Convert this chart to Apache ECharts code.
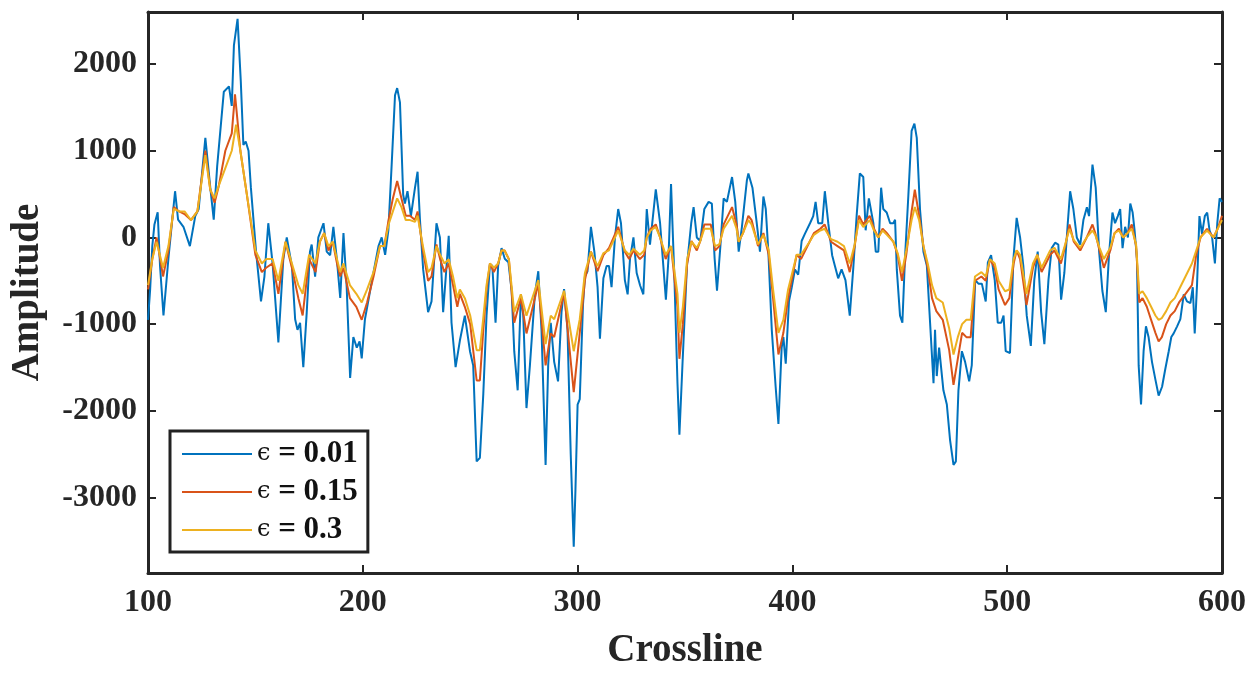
<!DOCTYPE html>
<html><head><meta charset="utf-8">
<script src="https://cdn.jsdelivr.net/npm/echarts@6/dist/echarts.min.js"></script>
<style>html,body{margin:0;padding:0;background:#fff}#c{width:1258px;height:675px}</style>
</head><body><div id="c"></div>
<script>
const epsLabels = ['0.01', '0.15', '0.3'];
const xTicks = [100, 200, 300, 400, 500, 600];
const yTicks = [-3000, -2000, -1000, 0, 1000, 2000];

const blue = [[100,-950],[101,-600],[102,-100],[103,150],[104.5,290],[105.6,-330],[107.2,-900],[109.5,-246],[112.6,533],[114,205],[116.5,123],[119.5,-100],[122,246],[123.6,328],[126.7,1148],[129,574],[130.6,205],[132.2,820],[135.3,1681],[137.7,1742],[139,1517],[140,2214],[141.7,2521],[143.2,1800],[144.4,1066],[145.5,1107],[146.8,1000],[147.9,574],[150.3,-164],[152.6,-738],[154.2,-451],[156,164],[158,-300],[160.7,-1210],[163,-246],[164.6,0],[167,-330],[168.5,-943],[169.6,-1066],[170.8,-984],[172.3,-1496],[173.9,-861],[175.4,-164],[176.2,-82],[177.8,-451],[179.3,0],[181.7,164],[183.2,-164],[184.8,-205],[186.3,123],[187.9,-246],[189.5,-697],[191,50],[192.5,-574],[194.1,-1620],[195.6,-1148],[197.2,-1271],[198.5,-1200],[199.5,-1394],[201,-943],[203.4,-615],[205,-400],[207.3,-100],[208.8,0],[210.4,-200],[211.9,82],[213.4,820],[215,1640],[216,1722],[217.3,1558],[218.8,492],[219.6,390],[220.8,533],[222.4,246],[224.3,574],[225.5,758],[226.6,205],[228.1,-369],[230.4,-861],[232,-738],[234.3,164],[235.9,0],[237.4,-861],[239,-328],[240,20],[241.3,-984],[243.2,-1496],[245.2,-1189],[247.5,-902],[249.9,-1312],[251.4,-1476],[253,-2583],[254.5,-2542],[256.1,-1804],[257.6,-902],[259.2,-308],[260.3,-328],[261.8,-984],[263,-328],[264.6,-123],[266.1,-246],[267.8,-287],[269.3,-615],[270.5,-1312],[272.1,-1763],[273.6,-656],[274.7,-902],[276.2,-1968],[277.8,-1476],[280.1,-656],[281.7,-390],[283.2,-1066],[285.1,-2624],[286.3,-1476],[287.5,-984],[289.1,-1435],[290.9,-1660],[292.5,-861],[293.7,-595],[295.3,-1066],[296.8,-2501],[298.2,-3567],[299,-2911],[300,-1927],[301,-1866],[302.5,-779],[303.4,-451],[304.6,-390],[306.2,123],[307.8,-164],[309.3,-574],[310.4,-1168],[312,-472],[313.5,-328],[314.6,-328],[315.8,-574],[317.4,0],[318.9,328],[320.2,164],[322,-492],[323.3,-656],[324.4,-246],[326,0],[327.5,-410],[329.1,-554],[330.6,-656],[332.2,328],[333.7,-82],[336.4,554],[338.4,164],[341.1,-718],[342.3,-246],[343.5,615],[345.1,-492],[346.5,-1681],[347.4,-2276],[348.8,-1476],[350.9,-328],[352.9,164],[354,349],[355.5,0],[357.1,-41],[359,328],[361,410],[362.5,390],[363.8,-246],[364.9,-615],[366.4,-123],[368,451],[369.5,410],[371.9,697],[373.4,410],[375,-164],[376.5,123],[378.8,656],[379.5,738],[381.4,574],[383.4,164],[384.9,-164],[386.5,472],[387.6,328],[388.8,-164],[390.4,-1066],[392.2,-1722],[393.5,-2152],[395,-1271],[395.8,-1148],[396.9,-1455],[398.4,-738],[399.7,-574],[401.2,-369],[402.7,-430],[404.3,-41],[405.8,41],[408.2,164],[409.7,246],[410.8,410],[412,164],[413.9,164],[415.1,533],[416.7,164],[418.5,-205],[419.8,-328],[421.3,-472],[422.9,-369],[424.7,-492],[426.7,-902],[428.3,-369],[429.9,246],[431.4,738],[433,697],[434.1,82],[435.6,451],[437.7,164],[438.8,-164],[440,-164],[441.3,574],[442.3,328],[443.9,287],[445.5,164],[447,164],[447.8,205],[448.6,-369],[450.1,-902],[451.2,-984],[452.4,-246],[454,492],[455.5,1230],[456.8,1312],[457.9,1148],[459.4,328],[461,-164],[462.6,-328],[464.1,-984],[465.7,-1681],[466.4,-1066],[467.2,-1599],[468.3,-1271],[470.3,-1763],[471.9,-1927],[473.4,-2337],[475,-2624],[476.1,-2583],[477.3,-1763],[478.9,-1312],[480.4,-1435],[482.3,-1660],[483.5,-1476],[485.1,-492],[486.6,-533],[488.2,-533],[490,-738],[491,-287],[492.5,-205],[494.2,-492],[495.6,-984],[497.2,-984],[498.3,-902],[499.3,-1312],[501.3,-1333],[502.9,-246],[504.4,225],[506,0],[507.5,-328],[509.1,-902],[511,-1250],[512.6,-492],[514.2,-164],[515.8,-861],[517.3,-1230],[519.2,-492],[520.7,-123],[522.3,-61],[523.8,-82],[525.1,-718],[526.6,-410],[528.2,164],[529.3,533],[530.8,328],[532.4,0],[534,-82],[535.5,205],[537.1,349],[538.1,246],[539.7,840],[541.2,574],[542.8,-164],[544.3,-615],[545.9,-861],[547.4,-200],[549,287],[550.2,164],[551.5,246],[552.6,328],[553.7,-123],[554.9,123],[556.2,0],[557.3,390],[558.4,287],[559.3,82],[560.4,-246],[561.2,-1476],[562.3,-1927],[563.5,-1312],[564.6,-1025],[565.8,-1148],[567.4,-1435],[569,-1640],[570.5,-1824],[572.1,-1722],[573.6,-1517],[575.2,-1312],[576.4,-1148],[577.5,-1107],[579.1,-1025],[580.6,-943],[582.2,-656],[583.7,-738],[585.3,-758],[586.4,-574],[587.3,-1107],[588.4,-533],[589.5,246],[590.7,41],[592,246],[593.1,287],[594.2,82],[595.4,0],[596.7,-300],[597.8,164],[598.9,451],[600,410]];

const red = [[100,-600],[102,-250],[104,0],[107,-450],[109.5,-150],[112,350],[114.5,300],[117,270],[120,200],[123,300],[126.7,1000],[129,550],[131,400],[133,600],[136,1000],[139,1200],[140.5,1650],[143,1000],[146,500],[150,-200],[153,-400],[155,-350],[158,-300],[160.7,-650],[164,-50],[167,-350],[170,-700],[172,-900],[175,-250],[178,-400],[180,-50],[182,50],[184,-150],[186,-50],[188,-300],[189.5,-450],[191,-350],[194,-700],[197,-800],[199.5,-950],[202,-750],[205,-450],[208,-100],[210,-100],[212,200],[214,450],[216,650],[218,450],[220,250],[222,250],[224.3,200],[225.5,300],[228,-150],[230.4,-500],[232,-450],[234.3,-80],[236,-250],[238,-400],[240,-300],[242,-550],[244,-800],[245.2,-650],[247.5,-800],[250,-1000],[253,-1650],[254.5,-1650],[256,-1100],[257.6,-600],[259.2,-300],[261,-400],[263,-300],[264.6,-150],[266,-150],[268,-250],[270.5,-984],[273.6,-700],[276.2,-1107],[281.7,-533],[285.1,-1476],[287.5,-1107],[289.1,-1148],[293.7,-635],[298.2,-1783],[301,-1100],[303.4,-492],[306.2,-164],[309.3,-390],[312,-205],[314.6,-123],[318.9,123],[322,-164],[324,-250],[326,-150],[329,-250],[331,-200],[332.2,0],[334,100],[336.4,150],[338.4,0],[341,-250],[343.5,-100],[346.5,-800],[347.4,-1400],[349,-1000],[351,-300],[353,-41],[355.5,-150],[357,-50],[359,150],[362,150],[364,-150],[366,-100],[368,150],[371.9,350],[374,150],[375,-50],[377,50],[379.5,250],[381,200],[384,-100],[386.5,50],[389,-200],[391,-700],[393.5,-1350],[395.8,-1100],[398,-700],[400,-450],[402,-200],[404,-250],[408,-50],[410,50],[413,100],[415,150],[418,-50],[421,-100],[424,-150],[426.7,-400],[429,-100],[431,250],[433,150],[436,250],[438,100],[440,0],[442,100],[444,50],[447,-50],[449,-200],[451,-500],[453,-200],[455.5,300],[457,550],[459,250],[461,-100],[463,-350],[465,-700],[467,-850],[470,-950],[473,-1300],[475,-1700],[477,-1400],[479,-1100],[481,-1150],[483,-1150],[485,-500],[488,-450],[490,-500],[492,-250],[494.2,-350],[496,-600],[499,-780],[501,-700],[503,-300],[504.4,-150],[506,-250],[509,-780],[512,-350],[514,-200],[516,-400],[518,-300],[520,-200],[522,-150],[525,-300],[527,-100],[529,150],[531,-50],[534,-150],[537,0],[539.7,150],[541,50],[543,-150],[545,-350],[548,-150],[550,50],[552,100],[554,0],[556,50],[558,150],[560,-100],[561.5,-750],[563,-700],[565,-800],[567,-950],[569,-1100],[570.5,-1200],[572,-1150],[574,-1000],[576,-900],[578,-850],[580,-750],[583,-650],[586,-550],[588,-200],[590,0],[593,100],[596,0],[598,100],[600,250]];

const yellow = [[100,-550],[102,-250],[104,-50],[107,-350],[109.5,-100],[112,330],[114.5,300],[117,300],[120,200],[123,300],[126.7,950],[129,550],[131,450],[133,600],[136,800],[139,1000],[141,1300],[143,1000],[146,500],[150,-150],[153,-300],[155,-250],[158,-250],[160.7,-500],[164,-50],[167,-300],[170,-550],[172,-650],[175,-200],[178,-300],[180,-50],[182,50],[184,-100],[186,-50],[188,-250],[189.5,-400],[191,-300],[194,-550],[197,-650],[199.5,-750],[202,-600],[205,-400],[208,-100],[210,-100],[212,150],[214,300],[216,450],[218,350],[220,200],[222,200],[224.3,180],[225.5,250],[228,-100],[230.4,-400],[232,-350],[234.3,-100],[236,-200],[238,-300],[240,-250],[242,-450],[244,-700],[245.2,-600],[247.5,-700],[250,-900],[253,-1300],[254.5,-1300],[256,-950],[257.6,-550],[259.2,-300],[261,-350],[263,-300],[264.6,-150],[266,-150],[268,-250],[270.5,-861],[273.6,-656],[276.2,-902],[281.7,-492],[285.1,-1230],[287.5,-902],[289.1,-943],[293.7,-615],[298.2,-1312],[301,-943],[303.4,-410],[306.2,-164],[309.3,-330],[312,-180],[314.6,-150],[318.9,80],[322,-150],[324,-200],[326,-130],[329,-200],[331,-150],[332.2,0],[334,80],[336.4,120],[338.4,0],[341,-200],[343.5,-100],[346.5,-650],[347.4,-1100],[349,-800],[351,-250],[353,-50],[355.5,-120],[357,-50],[359,100],[362,100],[364,-100],[366,-80],[368,100],[371.9,250],[374,100],[375,-50],[377,50],[379.5,200],[381,150],[384,-80],[386.5,30],[389,-150],[391,-600],[393.5,-1100],[395.8,-950],[398,-600],[400,-400],[402,-200],[404,-200],[408,-50],[410,30],[413,80],[415,100],[418,-20],[421,-50],[424,-100],[426.7,-300],[429,-80],[431,200],[433,120],[436,200],[438,80],[440,0],[442,80],[444,30],[447,-50],[449,-180],[451,-400],[453,-150],[455.5,200],[457,350],[459,200],[461,-100],[463,-300],[465,-550],[467,-700],[470,-750],[473,-1050],[475,-1350],[477,-1150],[479,-1000],[481,-950],[483,-950],[485,-450],[488,-400],[490,-450],[492,-250],[494.2,-300],[496,-500],[499,-620],[501,-600],[503,-250],[504.4,-150],[506,-200],[509,-650],[512,-300],[514,-200],[516,-350],[518,-250],[520,-150],[522,-120],[525,-250],[527,-80],[529,100],[531,-30],[534,-120],[537,0],[539.7,80],[541,30],[543,-120],[545,-250],[548,-120],[550,50],[552,80],[554,0],[556,50],[558,100],[560,-80],[561.5,-650],[563,-620],[565,-700],[567,-800],[569,-900],[570.5,-950],[572,-930],[574,-850],[576,-750],[578,-700],[580,-600],[583,-450],[586,-300],[588,-150],[590,0],[593,80],[596,0],[598,100],[600,200]];

const FONT = '"Liberation Serif", "Times New Roman", serif';
const AX = '#262626';
const chart = echarts.init(document.getElementById('c'), null, {renderer: 'canvas'});
const names = epsLabels.map(v => 'ϵ = ' + v);
const colors = ['#0072BD', '#D95319', '#EDB120'];
const plain = v => String(v);
const baseX = {
  type: 'value', min: 100, max: 600, interval: 100,
  axisLine: {show: true, onZero: false, lineStyle: {color: AX, width: 3}},
  axisTick: {show: true, inside: true, length: 8, lineStyle: {color: AX, width: 2}},
  splitLine: {show: false}
};
const baseY = {
  type: 'value', min: -3870, max: 2600,
  axisLine: {show: true, onZero: false, lineStyle: {color: AX, width: 3}},
  axisTick: {show: true, inside: true, length: 8, customValues: yTicks, lineStyle: {color: AX, width: 2}},
  splitLine: {show: false}
};
chart.setOption({
  animation: false,
  backgroundColor: '#fff',
  grid: {left: 148, right: 36, top: 12, bottom: 99},
  xAxis: [
    Object.assign({}, baseX, {position: 'bottom',
      name: 'Crossline', nameLocation: 'middle', nameGap: 58,
      nameTextStyle: {fontFamily: FONT, fontWeight: 'bold', fontSize: 39, color: '#262626'},
      axisLabel: {margin: 14, fontFamily: FONT, fontWeight: 'bold', fontSize: 32, color: '#262626',
        customValues: xTicks, formatter: plain}}),
    Object.assign({}, baseX, {position: 'top', axisLabel: {show: false}})
  ],
  yAxis: [
    Object.assign({}, baseY, {position: 'left',
      name: 'Amplitude', nameLocation: 'middle', nameGap: 101,
      nameTextStyle: {fontFamily: FONT, fontWeight: 'bold', fontSize: 39, color: '#262626'},
      axisLabel: {margin: 11, fontFamily: FONT, fontWeight: 'bold', fontSize: 32, color: '#262626',
        customValues: yTicks, formatter: plain}}),
    Object.assign({}, baseY, {position: 'right', axisLabel: {show: false}})
  ],
  legend: {
    left: 170, top: 431, orient: 'vertical',
    padding: [7, 10, 6, 12],
    itemGap: 6, itemWidth: 70, itemHeight: 2, icon: 'rect',
    backgroundColor: '#fff', borderColor: '#222', borderWidth: 3, borderRadius: 0,
    data: names,
    textStyle: {fontFamily: FONT, fontWeight: 'bold', fontSize: 31, color: '#111', lineHeight: 32,
      rich: {e: {fontFamily: '"DejaVu Serif", serif', fontWeight: 'normal', fontSize: 24, color: '#111', lineHeight: 32},
             b: {fontFamily: FONT, fontWeight: 'bold', fontSize: 31, color: '#111', lineHeight: 32}}},
    formatter: n => '{e|ϵ}{b| = ' + n.split('= ')[1] + '}'
  },
  series: [blue, red, yellow].map((d, i) => ({
    name: names[i], type: 'line', data: d, symbol: 'none', smooth: false,
    xAxisIndex: 0, yAxisIndex: 0,
    lineStyle: {color: colors[i], width: 2}, itemStyle: {color: colors[i]}, z: 2 + i
  }))
});
</script></body></html>
